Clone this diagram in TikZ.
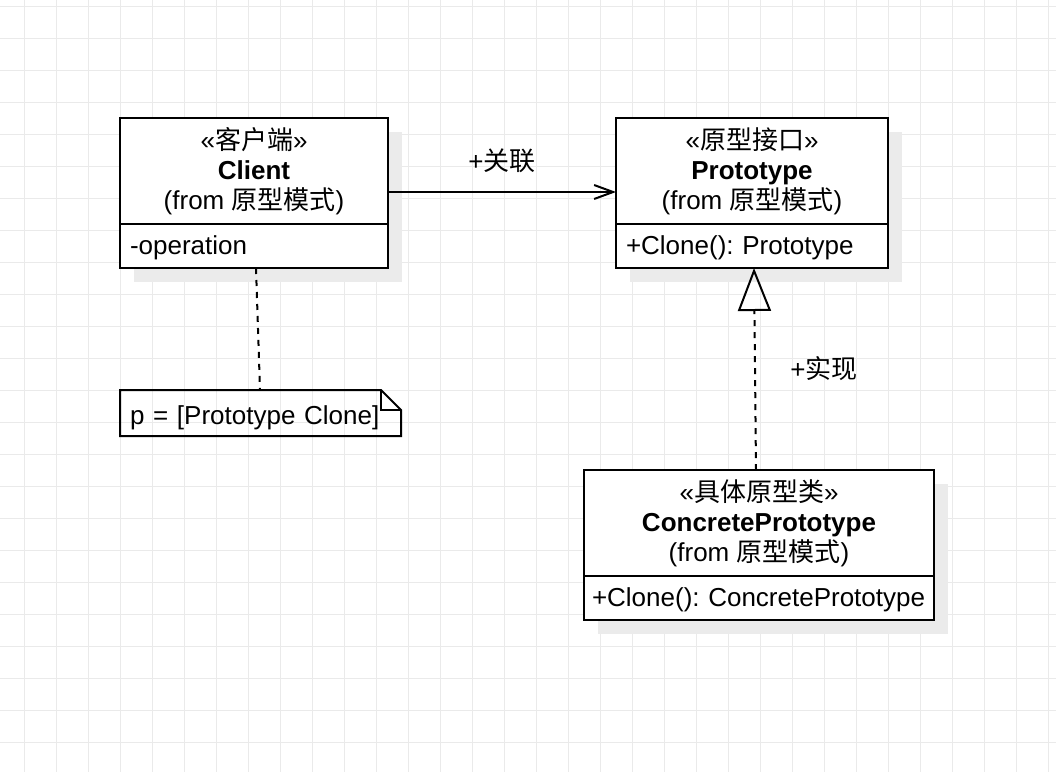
\documentclass[tikz,border=0pt]{standalone}
\usepackage{fontspec}
\setmainfont{Liberation Sans}
\newfontfamily\cjk{Noto Sans CJK SC}
\usetikzlibrary{positioning,arrows.meta,shadows}
\frenchspacing

\definecolor{gridgray}{HTML}{EAEAEA}
\definecolor{shadowgray}{HTML}{EBEBEB}

\tikzset{
  gridline/.style={draw=gridgray, line width=1pt},
  umlshadow/.style={drop shadow={shadow xshift=14pt, shadow yshift=-14pt, fill=shadowgray, opacity=1}},
  classhead/.style={draw, line width=2pt, fill=white, outer sep=0pt, inner sep=0pt, align=center, minimum height=106pt, umlshadow},
  classops/.style={draw, line width=2pt, fill=white, outer sep=0pt, inner xsep=10pt, inner ysep=0pt, text height=22pt, text depth=6pt, align=left, minimum height=44pt, umlshadow},
  notebox/.style={outer sep=0pt, inner xsep=10pt, inner ysep=0pt, text height=26pt, text depth=4pt, align=left, minimum height=46pt},
  assoc/.style={line width=2pt, -{Straight Barb[length=19pt, width=14pt]}},
  realize/.style={line width=2pt, dash pattern=on 6pt off 6pt, -{Triangle[open, length=43pt, width=33pt]}},
  notelink/.style={line width=2pt, dash pattern=on 6pt off 6pt}
}

\begin{document}
\begin{tikzpicture}[x=1pt, y=-1pt, every node/.style={font=\fontsize{26}{30}\selectfont}]
\useasboundingbox (0,0) rectangle (1056,772);
\fill[white] (0,0) rectangle (1056,772);

% grid
\foreach \x in {24,56,...,1048} \draw[gridline] (\x,0) -- (\x,772);
\foreach \y in {6,38,...,774} \draw[gridline] (0,\y) -- (1056,\y);

% classes
\node[classhead, minimum width=268pt] (clienthead) at (254,171) {«{\cjk 客户端}»\\\textbf{Client}\\(from {\cjk 原型模式})};
\node[classops, text width=248pt, below=0pt of clienthead] (clientops) {-operation};

\node[classhead, minimum width=272pt] (protohead) at (752,171) {«{\cjk 原型接口}»\\\textbf{Prototype}\\(from {\cjk 原型模式})};
\node[classops, text width=252pt, below=0pt of protohead] (protoops) {+Clone(): Prototype};

\node[classhead, minimum width=350pt] (concretehead) at (759,523) {«{\cjk 具体原型类}»\\\textbf{ConcretePrototype}\\(from {\cjk 原型模式})};
\node[classops, inner xsep=8pt, text width=334pt, below=0pt of concretehead] (concreteops) {+Clone(): ConcretePrototype};

% note
\node[notebox, text width=261pt] (note) at (260.5,413) {p = [Prototype Clone]};
\draw[line width=2pt] (note.north west) -- ([xshift=-20pt]note.north east) -- ([yshift=-20pt]note.north east) -- (note.south east) -- (note.south west) -- cycle;
\draw[line width=2pt] ([xshift=-20pt]note.north east) |- ([yshift=-20pt]note.north east);

% connectors
\draw[assoc] ([yshift=-21pt]clienthead.east) -- node[midway, yshift=31pt] (assoclabel) {+{\cjk 关联}} ([yshift=-21pt]protohead.west);
\draw[realize] ([xshift=-3pt]concretehead.north) -- node[midway, xshift=69pt] (realizelabel) {+{\cjk 实现}} ([xshift=2pt]protoops.south);
\draw[notelink] ([xshift=2pt]clientops.south) -- ([xshift=-0.5pt]note.north);
\end{tikzpicture}
\end{document}
